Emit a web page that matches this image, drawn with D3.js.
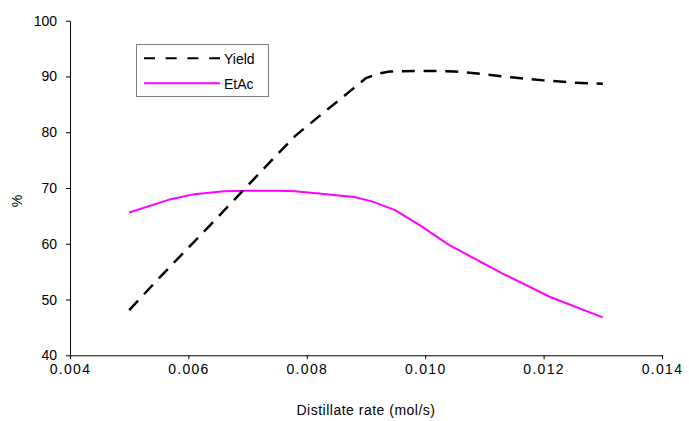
<!DOCTYPE html>
<html><head><meta charset="utf-8">
<script src="https://cdn.jsdelivr.net/npm/d3@7"></script>
<style>body{margin:0;background:#fff;} svg{display:block;font-family:"Liberation Sans",Arial,sans-serif;}</style>
</head><body>
<script>
const yieldX = [0.0050,0.0055,0.0060,0.0065,0.0070,0.0075,0.0078,0.0082,0.0087,0.0090,0.0092,0.0094,0.0100,0.0105,0.0110,0.0115,0.0120,0.0125,0.0130];
const yieldY = [48.1,53.8,59.3,64.8,70.4,76.0,79.3,82.8,87.1,89.7,90.5,90.9,91.0,90.9,90.4,89.8,89.3,88.9,88.7];
const etacX = [0.0050,0.0057,0.0061,0.0066,0.0070,0.0075,0.0078,0.0082,0.0088,0.0091,0.0095,0.0099,0.0104,0.0113,0.0121,0.0130];
const etacY = [65.6,68.0,68.9,69.4,69.5,69.5,69.4,69.0,68.4,67.6,66.0,63.4,59.8,54.7,50.5,46.8];
const xTicks = [0.004,0.006,0.008,0.010,0.012,0.014];
const yTicks = [40,50,60,70,80,90,100];
const seriesNames = ["Yield","EtAc"];

const W=689,H=421;
const svg=d3.select("body").append("svg").attr("width",W).attr("height",H);
const x=d3.scaleLinear().domain([0.004,0.014]).range([70,662]);
const y=d3.scaleLinear().domain([40,100]).range([355.3,20.7]);

const fmt=d3.format(".3f");
const xa=svg.append("g").attr("transform","translate(0,355.3)")
  .call(d3.axisBottom(x).tickValues(xTicks).tickFormat(fmt).tickSizeInner(4).tickSizeOuter(0).tickPadding(5));
const ya=svg.append("g").attr("transform","translate(70,0)")
  .call(d3.axisLeft(y).tickValues(yTicks).tickSizeInner(4).tickSizeOuter(0).tickPadding(9));
[xa,ya].forEach(g=>{
  g.selectAll("path,line").attr("stroke","#000").attr("stroke-width",1);
  g.selectAll("text").attr("fill","#000").attr("font-size",14).attr("font-family","Liberation Sans, Arial, sans-serif");
});
xa.selectAll("text").attr("letter-spacing","1.3px");

svg.append("text").attr("x",366).attr("y",415).attr("text-anchor","middle")
  .attr("font-size",14).attr("letter-spacing","0.5px").text("Distillate rate (mol/s)");
svg.append("text").attr("transform","translate(22,201) rotate(-90)").attr("text-anchor","middle")
  .attr("font-size",14).text("%");

const line=d3.line().x(d=>x(d[0])).y(d=>y(d[1]));
svg.append("path").datum(etacX.map((v,i)=>[v,etacY[i]])).attr("d",line)
  .attr("fill","none").attr("stroke","#ff00ff").attr("stroke-width",2);
svg.append("path").datum(yieldX.map((v,i)=>[v,yieldY[i]])).attr("d",line)
  .attr("fill","none").attr("stroke","#000").attr("stroke-width",2.5).attr("stroke-dasharray","13,8.7");

// legend
const lg=svg.append("g");
lg.append("rect").attr("x",136.5).attr("y",44.5).attr("width",132).attr("height",52)
  .attr("fill","#fff").attr("stroke","#808080").attr("stroke-width",1);
lg.append("line").attr("x1",144).attr("x2",220).attr("y1",58.3).attr("y2",58.3)
  .attr("stroke","#000").attr("stroke-width",2).attr("stroke-dasharray","11,10.7");
lg.append("line").attr("x1",144).attr("x2",220).attr("y1",83.3).attr("y2",83.3)
  .attr("stroke","#ff00ff").attr("stroke-width",2);
lg.append("text").attr("x",224).attr("y",63.5).attr("font-size",14).text(seriesNames[0]);
lg.append("text").attr("x",224).attr("y",88.5).attr("font-size",14).text(seriesNames[1]);
</script>
</body></html>
